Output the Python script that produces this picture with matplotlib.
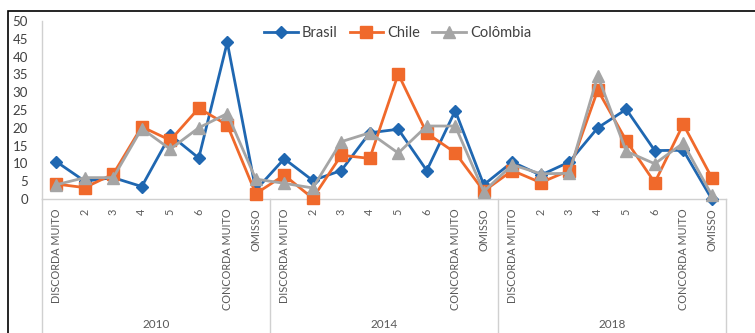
import matplotlib
matplotlib.use("Agg")
import matplotlib.pyplot as plt
from matplotlib.patches import Rectangle

plt.rcParams['font.family'] = ['Lato', 'DejaVu Sans']

years = ['2010', '2014', '2018']
categories = ['DISCORDA MUITO', '2', '3', '4', '5', '6', 'CONCORDA MUITO', 'OMISSO']

brasil = [10.5, 5.0, 6.0, 3.5, 18.0, 11.5, 44.0, 2.5,
          11.3, 5.2, 8.0, 18.6, 19.6, 8.0, 24.8, 4.0,
          10.4, 6.7, 10.4, 20.0, 25.2, 13.6, 13.7, 0.0]
chile = [4.2, 3.2, 7.0, 20.3, 16.5, 25.5, 20.8, 1.5,
         6.7, 0.2, 12.3, 11.4, 35.1, 18.5, 13.0, 2.2,
         8.0, 4.6, 8.0, 30.6, 16.4, 4.6, 21.0, 6.0]
colombia = [4.0, 6.0, 6.0, 19.8, 14.0, 20.0, 24.0, 5.6,
            4.4, 3.1, 16.1, 18.6, 12.9, 20.5, 20.5, 2.1,
            9.6, 7.1, 7.2, 34.6, 13.4, 9.9, 15.7, 1.1]

W, H = 755, 333
fig = plt.figure(figsize=(W / 100, H / 100), dpi=100)

# outer frame (runs past the right / bottom edges of the image)
fig.patches.append(Rectangle((8 / W, -0.1), 1.2, 1.1 - 11 / H, transform=fig.transFigure,
                             fill=False, edgecolor='black', linewidth=1.2))

ax = fig.add_axes([42 / W, (H - 199) / H, (726 - 42) / W, (199 - 21) / H])

n = len(years) * len(categories)
x = list(range(n))
series = [
    ('Brasil', brasil, '#1f67b1', 'D', 6.5),
    ('Chile', chile, '#f0692b', 's', 8.5),
    ('Colômbia', colombia, '#a5a5a5', '^', 9),
]
for name, vals, color, marker, ms in series:
    ax.plot(x, vals, color=color, marker=marker, markersize=ms, linewidth=2.0,
            label=name, clip_on=False, zorder=3)

ax.set_xlim(-0.5, n - 0.5)
ax.set_ylim(0, 50)
ax.set_yticks(range(0, 51, 5))
ax.tick_params(axis='y', length=0, pad=10, labelsize=9.5, labelcolor='#404040')

ax.set_xticks(x)
ax.set_xticklabels(categories * len(years), rotation=90, fontsize=7.8, color='#595959')
ax.tick_params(axis='x', length=0, pad=7)
for lab in ax.get_xticklabels():
    lab.set_verticalalignment('top')

for side in ['top', 'right']:
    ax.spines[side].set_visible(False)
for side in ['left', 'bottom']:
    ax.spines[side].set_color('#d0d0d0')
    ax.spines[side].set_linewidth(1.0)

# group separators and year labels below the axis
trans = ax.get_xaxis_transform()
k = len(categories)
for g in range(len(years) + 1):
    ax.plot([g * k - 0.5] * 2, [0, -0.8], transform=trans, color='#d0d0d0',
            linewidth=1.0, clip_on=False)
for g, yr in enumerate(years):
    ax.text(g * k + (k - 1) / 2, -(324 - 199) / 178, yr, transform=trans,
            ha='center', va='center', fontsize=8.5, color='#595959')

leg = ax.legend(loc='center', bbox_to_anchor=(0.52, 1 - (33 - 21) / 178), ncol=3,
                frameon=False, fontsize=10.5, handlelength=2.3, columnspacing=0.8,
                handletextpad=0.3, borderaxespad=0)
for t in leg.get_texts():
    t.set_color('#404040')

fig.savefig('out.png', dpi=100)
